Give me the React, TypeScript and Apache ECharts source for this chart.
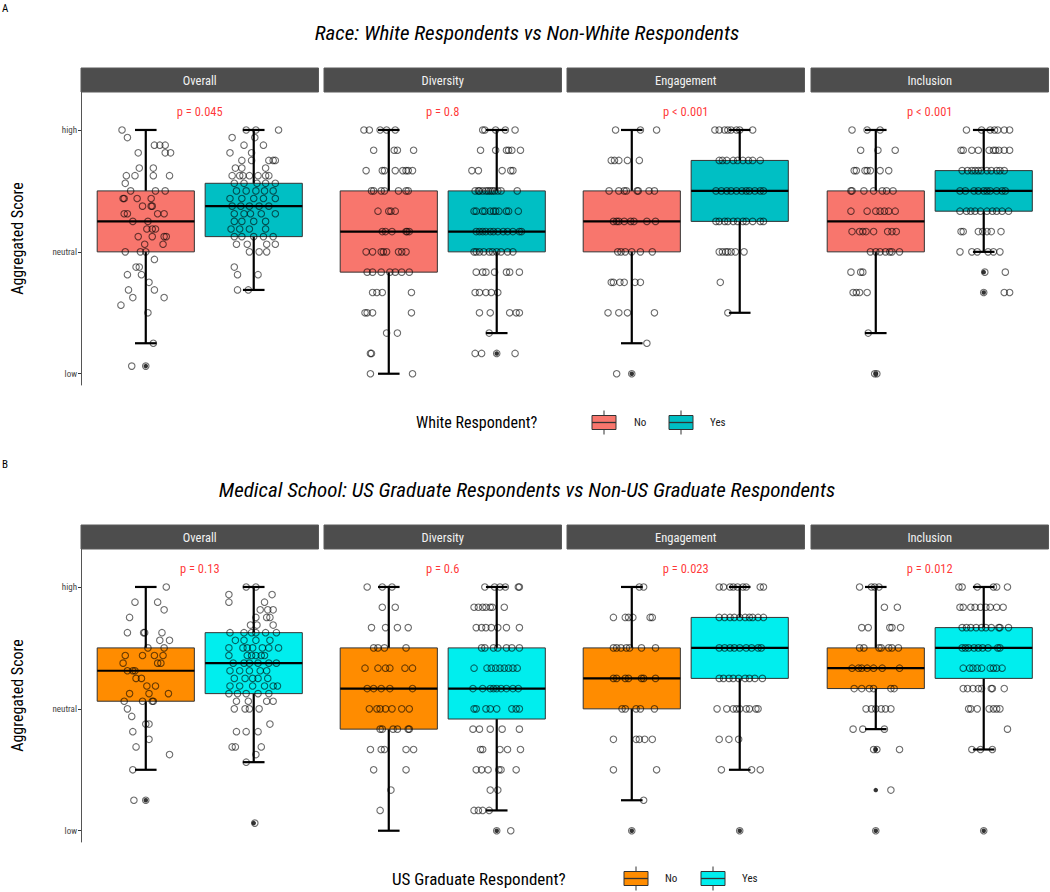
import React, { useEffect, useRef } from "react";
import * as echarts from "echarts";

// ---------- data ----------
const facets = ["Overall", "Diversity", "Engagement", "Inclusion"];
const groupLabels = ["No", "Yes"];
const yTickValues = [1, 3, 5];
const yTickLabels = ["low", "neutral", "high"];
const yAxisTitle = "Aggregated Score";

const raceTag = "A";
const raceTitle = "Race: White Respondents vs Non-White Respondents";
const raceLegendTitle = "White Respondent?";
const raceColors = ["#F8766D", "#00BFC4"];
const racePValues = ["p = 0.045", "p = 0.8", "p < 0.001", "p < 0.001"];
// [lower whisker, Q1, median, Q3, upper whisker] per facet
const raceBoxNo = [
  [1.5, 3.0, 3.5, 4.0, 5.0],
  [1.0, 2.667, 3.333, 4.0, 5.0],
  [1.5, 3.0, 3.5, 4.0, 5.0],
  [1.667, 3.0, 3.5, 4.0, 5.0],
];
const raceBoxYes = [
  [2.375, 3.25, 3.75, 4.125, 5.0],
  [1.667, 3.0, 3.333, 4.0, 5.0],
  [2.0, 3.5, 4.0, 4.5, 5.0],
  [3.0, 3.667, 4.0, 4.333, 5.0],
];
const raceOutliersNo = [[1.125], [], [1.0], [1.0]];
const raceOutliersYes = [[], [1.333], [], [2.667, 2.333]];

// jittered respondents: [score, [horizontal jitter offsets]]
const raceOverallNoPts = [
  [5, [-0.22]], [4.875, [-0.17]], [4.75, [0.08, 0.13, 0.18]], [4.625, [-0.07, 0.18, 0.23]],
  [4.375, [-0.06, 0.07]], [4.25, [-0.18, -0.1, 0.07, 0.22]], [4.125, [-0.19]], [4, [-0.14, 0.09, 0.18]],
  [3.875, [-0.21, -0.2, -0.08, 0.05]], [3.75, [-0.03, 0.05, 0.06]], [3.625, [-0.2, -0.17, 0.11, 0.17]],
  [3.5, [-0.12, 0.02]], [3.375, [0.01, 0.06, 0.09]], [3.25, [-0.07, 0.06, 0.17, 0.19]], [3.125, [-0.01, 0.16]],
  [3, [-0.19, -0.05, 0]], [2.875, [0.08]], [2.75, [-0.09, -0.06]], [2.625, [-0.17, -0.04]], [2.5, [0.03]],
  [2.375, [-0.16, 0.08]], [2.25, [-0.12, 0.17]], [2.125, [-0.23]], [2, [0.02]], [1.5, [0.07]], [1.125, [-0.13, 0]],
];
const raceOverallYesPts = [
  [5, [-0.07, 0.02, 0.23]], [4.875, [-0.2, 0.01]], [4.75, [-0.09, 0.09]], [4.625, [-0.22, -0.02]],
  [4.5, [-0.11, -0.02, 0.14, 0.18, 0.2]], [4.375, [-0.17, -0.11, 0.11]],
  [4.25, [-0.2, -0.13, -0.1, -0.04, 0.04, 0.11, 0.14]], [4.125, [-0.18, -0.09, 0.03, 0.11, 0.2]],
  [4, [-0.16, -0.07, 0.02, 0.1, 0.18]], [3.875, [-0.22, -0.11, 0, 0.09, 0.2]],
  [3.75, [-0.2, -0.12, -0.04, 0.05, 0.14]], [3.625, [-0.18, -0.09, -0.03, 0.07, 0.2]],
  [3.5, [-0.18, -0.11, 0, 0.11]], [3.375, [-0.21, -0.13, -0.04, 0.11]], [3.25, [-0.18, -0.11, 0, 0.09, 0.18]],
  [3.125, [-0.16, -0.06, 0.12, 0.2]], [3, [-0.04, 0.05, 0.12]], [2.75, [-0.18]], [2.625, [-0.15, 0.04]],
  [2.375, [-0.15, -0.05]],
];
const raceDiversityNoPts = [
  [5, [-0.23, -0.18, -0.08, -0.02, 0.06]], [4.667, [-0.14, 0.05, 0.08, 0.23]],
  [4.333, [-0.21, -0.06, -0.04, 0.06, 0.13, 0.16, 0.18, 0.22]], [4, [-0.16, -0.14, -0.07, -0.04, 0.09, 0.16, 0.18]],
  [3.667, [-0.1, 0, 0.02, 0.06]], [3.333, [-0.06, -0.03, 0.03, 0.16, 0.17, 0.19]],
  [3, [-0.21, -0.15, -0.07, -0.05, -0.02, 0.09, 0.12, 0.16]], [2.667, [-0.2, -0.15, -0.07, 0.01, 0.06, 0.12, 0.19]],
  [2.333, [-0.15, -0.11, -0.06, 0.21]], [2, [-0.22, -0.2, -0.15, 0.21]], [1.667, [-0.02, 0.08]],
  [1.333, [-0.17, -0.16]], [1, [-0.17, 0.22]],
];
const raceDiversityYesPts = [
  [5, [-0.13, -0.11, -0.01, 0.08, 0.17]], [4.667, [-0.15, -0.01, 0.09, 0.11, 0.14, 0.22]],
  [4.333, [-0.23, -0.17, 0.05, 0.13, 0.15]],
  [4, [-0.2, -0.17, -0.16, -0.13, -0.1, -0.08, -0.06, -0.04, -0.02, 0.01, 0.04, 0.19]],
  [3.667, [-0.21, -0.19, -0.13, -0.11, -0.06, -0.03, -0.01, 0.02, 0.09, 0.11, 0.2]],
  [3.333, [-0.19, -0.16, -0.13, -0.1, -0.06, -0.03, 0.01, 0.06, 0.1, 0.15, 0.21, 0.23]],
  [3, [-0.21, -0.19, -0.16, -0.12, -0.07, -0.04, 0, 0.04, 0.1, 0.15]],
  [2.667, [-0.19, -0.13, -0.1, -0.02, 0.09, 0.12, 0.21]], [2.333, [-0.2, -0.16, -0.1, -0.05, 0.01]],
  [2, [-0.16, -0.06, 0.12, 0.18, 0.21]], [1.667, [-0.07]], [1.333, [-0.2, -0.14, 0, 0.17]],
];
const raceEngagementNoPts = [
  [5, [-0.15, 0.08, 0.23]], [4.5, [-0.19, -0.16, -0.12, -0.04, 0.07]],
  [4, [-0.21, -0.12, -0.07, -0.05, 0.05, 0.06, 0.16, 0.21]],
  [3.5, [-0.17, -0.14, -0.12, -0.07, -0.01, 0.02, 0.14, 0.22]], [3, [-0.13, -0.1, -0.06, 0, 0.08, 0.19]],
  [2.5, [-0.19, -0.17, -0.11, -0.07, 0.03, 0.08]], [2, [-0.22, -0.12, -0.04, 0.21]], [1.5, [0.14]],
  [1, [-0.14, 0]],
];
const raceEngagementYesPts = [
  [5, [-0.23, -0.19, -0.14, -0.11, -0.08, -0.03, 0, 0.12]],
  [4.5, [-0.19, -0.16, -0.12, -0.06, -0.02, 0.03, 0.08, 0.12, 0.19]],
  [4, [-0.22, -0.17, -0.12, -0.08, -0.03, 0.02, 0.06, 0.09, 0.14, 0.19, 0.22]],
  [3.5, [-0.22, -0.19, -0.14, -0.11, -0.06, -0.02, 0.03, 0.06, 0.12, 0.19, 0.22]],
  [3, [-0.19, -0.16, -0.13, -0.11, -0.08, -0.04, 0.04]], [2.5, [-0.18]], [2, [-0.11]],
];
const raceInclusionNoPts = [
  [5, [-0.22, -0.08, 0.04]], [4.667, [-0.14, 0.02, 0.18]], [4.333, [-0.2, -0.18, -0.1, -0.08, -0.05, 0.04, 0.12]],
  [4, [-0.23, -0.22, -0.11, -0.02, 0.06, 0.1, 0.16]], [3.667, [-0.23, -0.08, 0, 0.04, 0.08, 0.12, 0.18]],
  [3.333, [-0.22, -0.15, -0.12, -0.09, -0.02, 0.11, 0.15, 0.19]], [3, [-0.05, 0, 0.04, 0.09, 0.13, 0.15, 0.22]],
  [2.667, [-0.23, -0.14, -0.12]], [2.333, [-0.21, -0.18, -0.15, -0.08]], [1.667, [-0.07]], [1, [-0.01, 0.01]],
];
const raceInclusionYesPts = [
  [5, [-0.16, -0.02, 0.06, 0.1, 0.13, 0.19, 0.24]],
  [4.667, [-0.21, -0.19, -0.11, -0.05, 0.05, 0.09, 0.11, 0.14, 0.19, 0.24]],
  [4.333, [-0.2, -0.15, -0.11, -0.08, -0.05, -0.02, 0.03, 0.07, 0.12, 0.15, 0.19]],
  [4, [-0.22, -0.17, -0.09, -0.05, 0, 0.03, 0.06, 0.12, 0.17, 0.2]],
  [3.667, [-0.22, -0.16, -0.12, -0.08, -0.03, 0.03, 0.08, 0.12, 0.17, 0.23]],
  [3.333, [-0.21, -0.19, -0.05, -0.01, 0.03, 0.07, 0.16]], [3, [-0.22, -0.11, -0.06, 0.04, 0.09, 0.15]],
  [2.667, [0.01, 0.2]], [2.333, [0, 0.19, 0.24]],
];

const schoolTag = "B";
const schoolTitle = "Medical School: US Graduate Respondents vs Non-US Graduate Respondents";
const schoolLegendTitle = "US Graduate Respondent?";
const schoolColors = ["#FF8C00", "#00EEEE"];
const schoolPValues = ["p = 0.13", "p = 0.6", "p = 0.023", "p = 0.012"];
const schoolBoxNo = [
  [2.0, 3.125, 3.625, 4.0, 5.0],
  [1.0, 2.667, 3.333, 4.0, 5.0],
  [1.5, 3.0, 3.5, 4.0, 5.0],
  [2.667, 3.333, 3.667, 4.0, 5.0],
];
const schoolBoxYes = [
  [2.125, 3.25, 3.75, 4.25, 5.0],
  [1.333, 2.833, 3.333, 4.0, 5.0],
  [2.0, 3.5, 4.0, 4.5, 5.0],
  [2.333, 3.5, 4.0, 4.333, 5.0],
];
const schoolOutliersNo = [[1.5], [], [1.0], [2.333, 1.667, 1.0]];
const schoolOutliersYes = [[1.125], [1.0], [1.0], [1.0]];

const schoolOverallNoPts = [
  [5, [0.19]], [4.75, [-0.1, 0.11]], [4.625, [0.17]], [4.5, [-0.15]], [4.25, [-0.17, -0.02, -0.01, 0.15]],
  [4.125, [0.13, 0.22]], [4, [0.02, 0.17]], [3.875, [-0.19, -0.03, 0.08, 0.16]], [3.75, [-0.21, 0.11, 0.14]],
  [3.625, [-0.17, -0.12, -0.1]], [3.5, [-0.09, -0.04]], [3.375, [0.01, 0.09]], [3.25, [-0.15, 0.03, 0.21]],
  [3.125, [-0.2, -0.03, 0.06, 0.07]], [3, [-0.17]], [2.875, [-0.13]], [2.75, [0, 0.03]], [2.625, [-0.12]],
  [2.5, [0.03]], [2.375, [-0.09]], [2.25, [0.22]], [2, [-0.12]], [1.5, [-0.11, 0]],
];
const schoolOverallYesPts = [
  [5, [-0.07, 0.02]], [4.875, [-0.23, 0.17]], [4.75, [-0.23, 0.1]], [4.625, [0.06, 0.13, 0.18]],
  [4.5, [0.02, 0.12, 0.15]], [4.375, [-0.03, 0.03, 0.18]], [4.25, [-0.22, -0.09, -0.02, 0.02, 0.11, 0.21]],
  [4.125, [-0.17, -0.09, 0.02, 0.15]], [4, [-0.23, -0.1, -0.06, -0.01, 0.08, 0.14, 0.23]],
  [3.875, [-0.23, -0.06, -0.02, 0.02, 0.07, 0.1]], [3.75, [-0.19, -0.09, -0.04, 0.04, 0.14, 0.21]],
  [3.625, [-0.22, -0.13, -0.04, 0.06, 0.12]], [3.5, [-0.18, -0.08, -0.01, 0.04, 0.13]],
  [3.375, [-0.22, -0.13, -0.01, 0.1, 0.18, 0.22]], [3.25, [-0.23, -0.15, -0.07, 0.04, 0.14]],
  [3.125, [-0.16, -0.05, 0.12, 0.18]], [3, [-0.18, -0.08, -0.04, 0.05]], [2.75, [0.15]],
  [2.625, [-0.16, -0.07, 0.04]], [2.375, [-0.2, -0.17, 0.07]], [2.25, [0.02]], [2.125, [-0.07]], [1.125, [0.01]],
];
const schoolDiversityNoPts = [
  [5, [-0.2, -0.06, 0.03]], [4.667, [-0.06, 0.06]], [4.333, [-0.16, -0.03, 0.08, 0.18]],
  [4, [-0.14, -0.1, -0.04, 0.16]], [3.667, [-0.22, -0.1, -0.03, 0.01, 0.15, 0.22]],
  [3.333, [-0.2, -0.14, -0.07, 0.01, 0.22]], [3, [-0.18, -0.11, -0.08, -0.03, 0.03, 0.12, 0.19]],
  [2.667, [-0.08, -0.06, 0.04, 0.08, 0.18, 0.19]], [2.333, [-0.17, -0.07, -0.04, 0.16, 0.23]],
  [2, [-0.14, 0.16]], [1.667, [0.02]], [1.333, [-0.08]],
];
const schoolDiversityYesPts = [
  [5, [-0.11, -0.02, 0.03, 0.08, 0.2, 0.21]], [4.667, [-0.21, -0.17, -0.13, -0.1, -0.06, -0.04, 0.07]],
  [4.333, [-0.19, -0.14, -0.1, -0.05, 0.01, 0.09, 0.21]], [4, [-0.14, -0.11, -0.03, 0.01, 0.09, 0.14, 0.21]],
  [3.667, [-0.21, -0.09, -0.05, -0.01, 0.03, 0.07, 0.11, 0.15, 0.19]],
  [3.333, [-0.22, -0.13, -0.06, -0.03, 0, 0.04, 0.09, 0.15, 0.2]],
  [3, [-0.21, -0.19, -0.1, -0.06, 0, 0.14, 0.18, 0.21]], [2.667, [-0.22, -0.16, -0.06, 0.05, 0.21]],
  [2.333, [-0.15, -0.13, 0.03, 0.1, 0.22]], [2, [-0.19, -0.14, -0.08, 0.02, 0.04, 0.18]],
  [1.667, [-0.06, 0.01]], [1.333, [-0.21, -0.17, -0.13, -0.07]], [1, [0, 0.13]],
];
const schoolEngagementNoPts = [
  [5, [0.07, 0.11]], [4.5, [-0.17, -0.06, -0.03, 0.01, 0.17, 0.19]],
  [4, [-0.17, -0.14, -0.1, -0.05, -0.02, 0.09, 0.22]], [3.5, [-0.17, -0.14, -0.06, -0.03, 0.09, 0.11, 0.22]],
  [3, [-0.09, -0.06, 0.04, 0.08, 0.21]], [2.5, [-0.17, 0.04, 0.07, 0.12, 0.19]], [2, [-0.17, 0.23]],
  [1.5, [0.11]], [1, [0]],
];
const schoolEngagementYesPts = [
  [5, [-0.19, -0.15, -0.09, -0.06, -0.02, 0.03, 0.06, 0.19, 0.22]],
  [4.5, [-0.19, -0.14, -0.09, -0.05, 0, 0.05, 0.09, 0.12, 0.17, 0.22]],
  [4, [-0.19, -0.14, -0.09, -0.05, 0, 0.06, 0.11, 0.17, 0.2]],
  [3.5, [-0.19, -0.15, -0.1, -0.06, -0.01, 0.05, 0.09, 0.14, 0.21]],
  [3, [-0.21, -0.12, -0.06, -0.03, 0, 0.06, 0.09, 0.15, 0.17]], [2.5, [-0.19, -0.1, -0.01]],
  [2, [-0.17, 0.11, 0.19]], [1, [0]],
];
const schoolInclusionNoPts = [
  [5, [-0.15, -0.04, -0.01, 0.03]], [4.667, [0.08, 0.2]], [4.333, [-0.13, -0.07, 0.13, 0.15, 0.23]],
  [4, [-0.15, -0.11, 0.03, 0.05, 0.12, 0.15, 0.21]], [3.667, [-0.22, -0.16, -0.13, -0.08, -0.02, 0.06, 0.22]],
  [3.333, [-0.2, -0.13, -0.06, -0.02, 0.14, 0.17]], [3, [-0.09, -0.04, 0, 0.05, 0.09, 0.14]],
  [2.667, [-0.21, -0.12, 0.08]], [2.333, [-0.02, 0.01, 0.22]], [1.667, [0.14]], [1, [0]],
];
const schoolInclusionYesPts = [
  [5, [-0.23, -0.2, -0.06, 0.09, 0.12, 0.22]],
  [4.667, [-0.22, -0.19, -0.12, -0.08, -0.03, 0.02, 0.06, 0.12, 0.18]],
  [4.333, [-0.2, -0.16, -0.12, -0.07, -0.02, 0.02, 0.07, 0.14, 0.15, 0.23]],
  [4, [-0.2, -0.17, -0.14, -0.09, -0.05, -0.01, 0.04, 0.13, 0.15]],
  [3.667, [-0.19, -0.13, -0.1, -0.06, -0.02, 0.06, 0.09, 0.12, 0.17]],
  [3.333, [-0.19, -0.15, -0.1, -0.05, -0.02, 0.07, 0.08, 0.19]],
  [3, [-0.14, -0.12, -0.06, 0.05, 0.09, 0.12, 0.15]], [2.667, [0.22]], [2.333, [-0.11, -0.03, 0.08]], [1, [0]],
];

// ---------- layout ----------
const FONT = "'Roboto Condensed', 'Liberation Sans Narrow', 'Arial Narrow', Roboto, sans-serif";
const GRID_LEFTS = [81, 324, 567, 811];
const GRID_W = 237.5;
const GRID_H = 293;
const Y_MIN = 0.815;
const Y_MAX = 5.623;
const BOX_HALF = 0.45;
const CAP_HALF = 0.1;
const P_Y = 5.3;

const panels = [
  {
    tag: raceTag, title: raceTitle, legendTitle: raceLegendTitle, colors: raceColors, pValues: racePValues,
    boxNo: raceBoxNo, boxYes: raceBoxYes, outNo: raceOutliersNo, outYes: raceOutliersYes,
    pts: [
      [raceOverallNoPts, raceOverallYesPts], [raceDiversityNoPts, raceDiversityYesPts],
      [raceEngagementNoPts, raceEngagementYesPts], [raceInclusionNoPts, raceInclusionYesPts],
    ],
    layout: { top: 92, tagY: 8, titleY: 33, legendY: 422.5, legendTitleX: 416, legendTitleSize: 16, keyX: [592, 669], keyTextX: [634, 710] },
  },
  {
    tag: schoolTag, title: schoolTitle, legendTitle: schoolLegendTitle, colors: schoolColors, pValues: schoolPValues,
    boxNo: schoolBoxNo, boxYes: schoolBoxYes, outNo: schoolOutliersNo, outYes: schoolOutliersYes,
    pts: [
      [schoolOverallNoPts, schoolOverallYesPts], [schoolDiversityNoPts, schoolDiversityYesPts],
      [schoolEngagementNoPts, schoolEngagementYesPts], [schoolInclusionNoPts, schoolInclusionYesPts],
    ],
    layout: { top: 549, tagY: 464, titleY: 490, legendY: 878.5, legendTitleX: 392, legendTitleSize: 17, keyX: [624, 701], keyTextX: [665, 742] },
  },
];

function buildOption() {
  const grid: any[] = [];
  const xAxis: any[] = [];
  const yAxis: any[] = [];
  const series: any[] = [];
  const graphic: any[] = [];

  panels.forEach((panel, pi) => {
    const L = panel.layout;
    graphic.push({
      type: "text", x: 2, y: L.tagY,
      style: { text: panel.tag, fontSize: 11, fontFamily: FONT, fill: "#000", textAlign: "left", textVerticalAlign: "middle", align: "left", verticalAlign: "middle" },
    });
    graphic.push({
      type: "text", x: 527, y: L.titleY,
      style: { text: panel.title, fontSize: 21, fontStyle: "italic", fontFamily: FONT, fill: "#000", textAlign: "center", textVerticalAlign: "middle", align: "center", verticalAlign: "middle" },
    });
    graphic.push({
      type: "text", x: 17, y: L.top + GRID_H / 2, rotation: Math.PI / 2,
      style: { text: yAxisTitle, fontSize: 16, fontFamily: FONT, fill: "#000", textAlign: "center", textVerticalAlign: "middle", align: "center", verticalAlign: "middle" },
    });
    // legend
    graphic.push({
      type: "text", x: L.legendTitleX, y: L.legendY,
      style: { text: panel.legendTitle, fontSize: L.legendTitleSize, fontFamily: FONT, fill: "#000", textAlign: "left", textVerticalAlign: "middle", align: "left", verticalAlign: "middle" },
    });
    groupLabels.forEach((lab, gi) => {
      const kx = L.keyX[gi];
      const cy = L.legendY;
      graphic.push({
        type: "group",
        children: [
          { type: "line", shape: { x1: kx + 12, y1: cy - 12, x2: kx + 12, y2: cy + 12 }, style: { stroke: "#333", lineWidth: 1 } },
          { type: "rect", shape: { x: kx, y: cy - 7, width: 24, height: 14 }, style: { fill: panel.colors[gi], stroke: "#333", lineWidth: 1 } },
          { type: "line", shape: { x1: kx, y1: cy, x2: kx + 24, y2: cy }, style: { stroke: "#333", lineWidth: 1.3 } },
        ],
      });
      graphic.push({
        type: "text", x: L.keyTextX[gi], y: cy,
        style: { text: lab, fontSize: 11, fontFamily: FONT, fill: "#1a1a1a", textAlign: "left", textVerticalAlign: "middle", align: "left", verticalAlign: "middle" },
      });
    });

    facets.forEach((facet, fi) => {
      const idx = pi * 4 + fi;
      const left = GRID_LEFTS[fi];
      grid.push({ left, top: L.top, width: GRID_W, height: GRID_H, containLabel: false });
      graphic.push({
        type: "rect", shape: { x: left, y: L.top - 24, width: GRID_W, height: 24 },
        style: { fill: "#4D4D4D", stroke: "#5a5a5a", lineWidth: 1 },
      });
      graphic.push({
        type: "text", x: left + GRID_W / 2, y: L.top - 12,
        style: { text: facet, fontSize: 12.5, fontFamily: FONT, fill: "#F2F2F2", textAlign: "center", textVerticalAlign: "middle", align: "center", verticalAlign: "middle" },
      });
      xAxis.push({ gridIndex: idx, type: "value", min: 0.4, max: 2.6, show: false });
      const first = fi === 0;
      yAxis.push({
        gridIndex: idx, type: "value", min: Y_MIN, max: Y_MAX,
        show: true,
        axisLine: { show: first, lineStyle: { color: "#555", width: 1 } },
        axisTick: { show: first, length: 3, customValues: yTickValues, lineStyle: { color: "#333" } },
        axisLabel: {
          show: first, customValues: yTickValues, margin: 4, fontSize: 9, fontFamily: FONT, color: "#444444",
          formatter: (v: number) => {
            const k = yTickValues.findIndex((t) => Math.abs(t - v) < 1e-6);
            return k >= 0 ? yTickLabels[k] : "";
          },
        },
        splitLine: { show: false },
      });

      const boxes = [panel.boxNo[fi], panel.boxYes[fi]];
      const colors = panel.colors;
      series.push({
        type: "custom", xAxisIndex: idx, yAxisIndex: idx, silent: true, z: 2,
        data: boxes.map((b, gi) => [gi + 1, ...b, gi]),
        encode: { x: 0, y: [1, 2, 3, 4, 5] },
        renderItem: (params: any, api: any) => {
          const x = api.value(0);
          const lo = api.value(1), q1 = api.value(2), med = api.value(3), q3 = api.value(4), hi = api.value(5);
          const ci = api.value(6);
          const pLo = api.coord([x, lo]);
          const pHi = api.coord([x, hi]);
          const cLoL = api.coord([x - CAP_HALF, lo]);
          const cLoR = api.coord([x + CAP_HALF, lo]);
          const cHiL = api.coord([x - CAP_HALF, hi]);
          const cHiR = api.coord([x + CAP_HALF, hi]);
          const bTL = api.coord([x - BOX_HALF, q3]);
          const bBR = api.coord([x + BOX_HALF, q1]);
          const mL = api.coord([x - BOX_HALF, med]);
          const mR = api.coord([x + BOX_HALF, med]);
          return {
            type: "group",
            children: [
              { type: "line", shape: { x1: pLo[0], y1: pLo[1], x2: pHi[0], y2: pHi[1] }, style: { stroke: "#000", lineWidth: 2.2 } },
              { type: "line", shape: { x1: cLoL[0], y1: cLoL[1], x2: cLoR[0], y2: cLoR[1] }, style: { stroke: "#000", lineWidth: 2.2 } },
              { type: "line", shape: { x1: cHiL[0], y1: cHiL[1], x2: cHiR[0], y2: cHiR[1] }, style: { stroke: "#000", lineWidth: 2.2 } },
              {
                type: "rect",
                shape: { x: bTL[0], y: bTL[1], width: bBR[0] - bTL[0], height: bBR[1] - bTL[1] },
                style: { fill: colors[ci], stroke: "#333", lineWidth: 1 },
              },
              { type: "line", shape: { x1: mL[0], y1: mL[1], x2: mR[0], y2: mR[1] }, style: { stroke: "#000", lineWidth: 2.2 } },
            ],
          };
        },
      });
      // outliers (filled)
      const outs = [panel.outNo[fi], panel.outYes[fi]];
      series.push({
        type: "scatter", xAxisIndex: idx, yAxisIndex: idx, silent: true, z: 3,
        symbol: "circle", symbolSize: 4.5,
        itemStyle: { color: "#000" },
        data: outs.flatMap((arr, gi) => arr.map((v) => [gi + 1, v])),
      });
      // jittered respondents (open circles)
      const pts = panel.pts[fi];
      series.push({
        type: "scatter", xAxisIndex: idx, yAxisIndex: idx, silent: true, z: 4,
        symbol: "circle", symbolSize: 6.5,
        itemStyle: { color: "rgba(255,255,255,0)", borderColor: "rgba(0,0,0,0.72)", borderWidth: 1.1 },
        data: pts.flatMap((rows: any[], gi: number) =>
          rows.flatMap(([score, dxs]: [number, number[]]) => dxs.map((d) => [gi + 1 + d, score]))
        ),
      });
      // p-value label
      series.push({
        type: "scatter", xAxisIndex: idx, yAxisIndex: idx, silent: true, z: 5,
        symbol: "circle", symbolSize: 1,
        itemStyle: { color: "rgba(255,255,255,0)" },
        label: {
          show: true, position: "inside", formatter: panel.pValues[fi],
          color: "#FF0000", fontSize: 12.5, fontFamily: FONT,
        },
        data: [[1.5, P_Y]],
      });
    });
  });

  return {
    animation: false,
    backgroundColor: "#FFFFFF",
    textStyle: { fontFamily: FONT },
    grid, xAxis, yAxis, series, graphic,
  };
}

export default function App() {
  const ref = useRef<HTMLDivElement>(null);
  useEffect(() => {
    document.body.style.margin = "0";
    if (!ref.current) return;
    const chart = echarts.init(ref.current, undefined, { renderer: "svg" });
    chart.setOption(buildOption() as any);
    return () => chart.dispose();
  }, []);
  return <div ref={ref} style={{ width: 1050, height: 892 }} />;
}
